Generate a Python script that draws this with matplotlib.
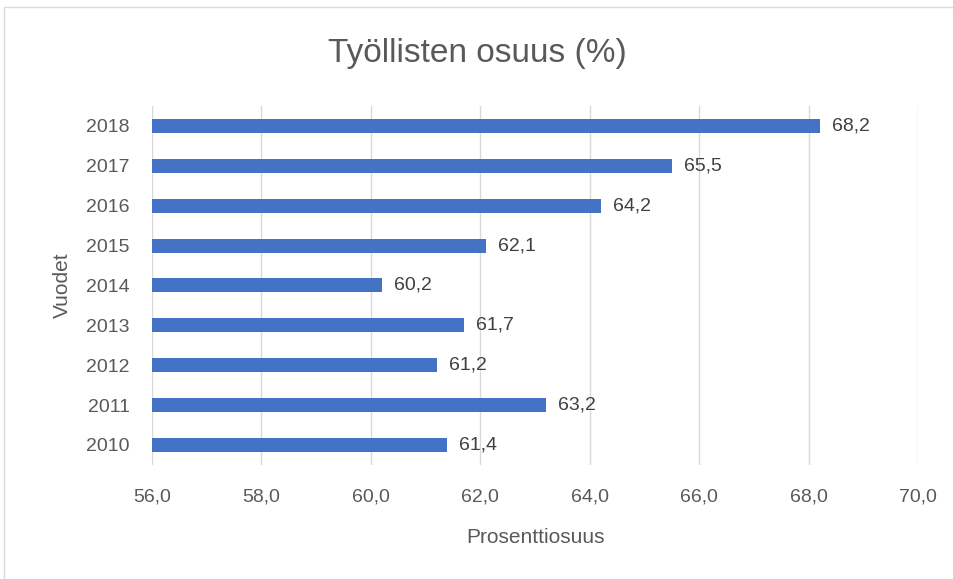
import matplotlib
matplotlib.use("Agg")
from matplotlib import pyplot as plt
from matplotlib.patches import Rectangle

# data
years = ["2010", "2011", "2012", "2013", "2014", "2015", "2016", "2017", "2018"]
shares = [61.4, 63.2, 61.2, 61.7, 60.2, 62.1, 64.2, 65.5, 68.2]
x_ticks = [56, 58, 60, 62, 64, 66, 68, 70]

TXT = "#595959"
BAR = "#4472C4"
plt.rcParams["font.family"] = ["Liberation Sans Narrow", "Liberation Sans", "DejaVu Sans"]

fig = plt.figure(figsize=(9.54, 5.79), dpi=100)
ax = fig.add_axes([0.1593, 0.197, 0.8030, 0.620])

ax.barh(range(len(years)), [v - 56 for v in shares], left=56, height=0.35,
        color=BAR, zorder=3)
for i, v in enumerate(shares):
    ax.text(v + 0.22, i, f"{v:.1f}".replace(".", ","), va="center", ha="left",
            fontsize=14, color="#404040")

ax.set_xlim(56, 70)
ax.set_ylim(-0.5, len(years) - 0.5)
ax.set_xticks(x_ticks)
ax.set_xticklabels([f"{t:.1f}".replace(".", ",") for t in x_ticks])
ax.set_yticks(range(len(years)))
ax.set_yticklabels(years)
ax.tick_params(length=0, labelsize=14, colors=TXT)
ax.tick_params(axis="x", pad=17)
ax.tick_params(axis="y", pad=16)
ax.xaxis.grid(True, color="#d9d9d9", linewidth=1, zorder=0)
for s in ax.spines.values():
    s.set_visible(False)

ax.set_xlabel("Prosenttiosuus", fontsize=15, color=TXT, labelpad=16)
ax.set_ylabel("Vuodet", fontsize=15, color=TXT, labelpad=10)
fig.text(0.5, 0.908, "Työllisten osuus (%)", ha="center", va="center",
         fontsize=24, color=TXT)

fig.patches.append(Rectangle((4 / 954, -0.01), 1.0, 1 - 7 / 579 + 0.01,
                             transform=fig.transFigure, fill=False,
                             edgecolor="#d9d9d9", linewidth=1))

fig.savefig("out.png", dpi=100, facecolor="white")
